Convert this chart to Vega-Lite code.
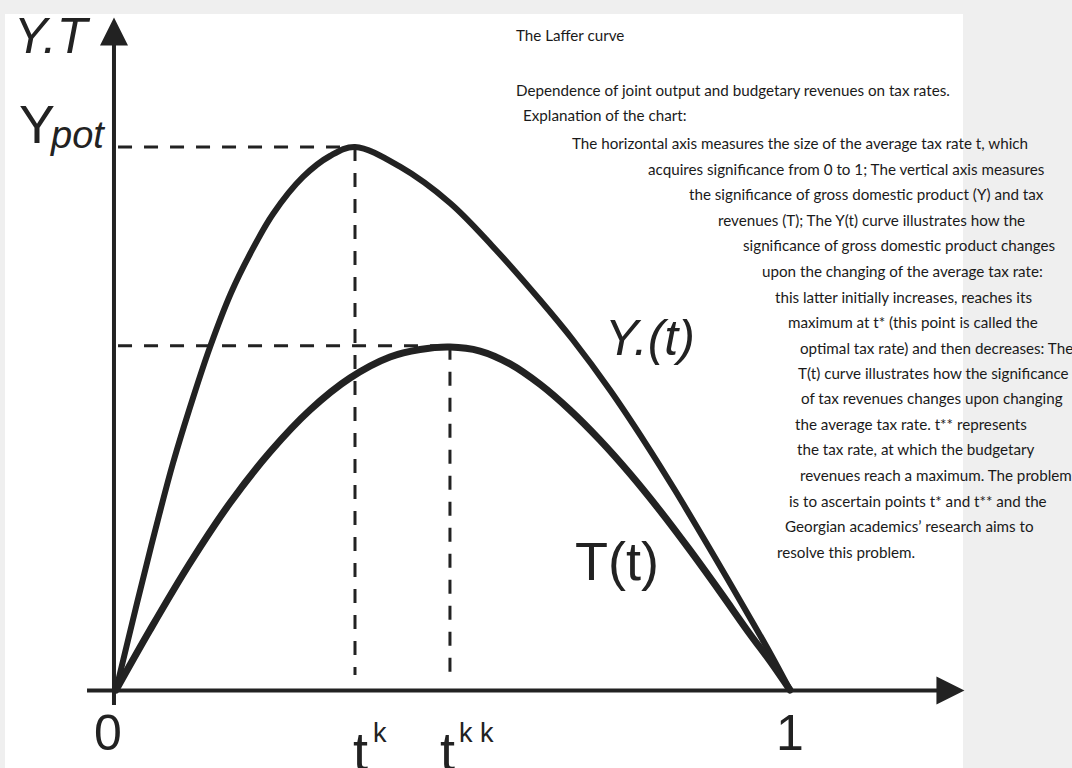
{
  "$schema": "https://vega.github.io/schema/vega-lite/v6.json",
  "width": 958,
  "height": 754,
  "autosize": {"type": "none"},
  "padding": {"left": 5, "top": 14, "right": 109, "bottom": 0},
  "background": "#efefef",
  "config": {"view": {"fill": "white", "stroke": null}},
  "datasets": {
    "curves": [
      {"series": "Y(t)", "t": 0, "v": 0},
      {"series": "Y(t)", "t": 0.0312, "v": 0.1602},
      {"series": "Y(t)", "t": 0.0579, "v": 0.2928},
      {"series": "Y(t)", "t": 0.0846, "v": 0.418},
      {"series": "Y(t)", "t": 0.1142, "v": 0.5378},
      {"series": "Y(t)", "t": 0.1395, "v": 0.6317},
      {"series": "Y(t)", "t": 0.1706, "v": 0.7311},
      {"series": "Y(t)", "t": 0.1988, "v": 0.8029},
      {"series": "Y(t)", "t": 0.2329, "v": 0.8766},
      {"series": "Y(t)", "t": 0.2774, "v": 0.9448},
      {"series": "Y(t)", "t": 0.3175, "v": 0.9834},
      {"series": "Y(t)", "t": 0.3546, "v": 1.0},
      {"series": "Y(t)", "t": 0.4214, "v": 0.9637},
      {"series": "Y(t)", "t": 0.4955, "v": 0.8969},
      {"series": "Y(t)", "t": 0.5593, "v": 0.8164},
      {"series": "Y(t)", "t": 0.6291, "v": 0.7182},
      {"series": "Y(t)", "t": 0.678, "v": 0.6446},
      {"series": "Y(t)", "t": 0.7329, "v": 0.5525},
      {"series": "Y(t)", "t": 0.7874, "v": 0.4512},
      {"series": "Y(t)", "t": 0.8294, "v": 0.3678},
      {"series": "Y(t)", "t": 0.8887, "v": 0.244},
      {"series": "Y(t)", "t": 0.9451, "v": 0.1236},
      {"series": "Y(t)", "t": 0.9729, "v": 0.0626},
      {"series": "Y(t)", "t": 1.0, "v": 0},
      {"series": "T(t)", "t": 0, "v": 0},
      {"series": "T(t)", "t": 0.0504, "v": 0.1105},
      {"series": "T(t)", "t": 0.1098, "v": 0.2339},
      {"series": "T(t)", "t": 0.1691, "v": 0.3444},
      {"series": "T(t)", "t": 0.2285, "v": 0.4383},
      {"series": "T(t)", "t": 0.2878, "v": 0.5157},
      {"series": "T(t)", "t": 0.3472, "v": 0.5746},
      {"series": "T(t)", "t": 0.4065, "v": 0.6133},
      {"series": "T(t)", "t": 0.451, "v": 0.6271},
      {"series": "T(t)", "t": 0.4955, "v": 0.6317},
      {"series": "T(t)", "t": 0.5401, "v": 0.6243},
      {"series": "T(t)", "t": 0.5846, "v": 0.6006},
      {"series": "T(t)", "t": 0.6291, "v": 0.563},
      {"series": "T(t)", "t": 0.6736, "v": 0.5155},
      {"series": "T(t)", "t": 0.7181, "v": 0.4602},
      {"series": "T(t)", "t": 0.7626, "v": 0.3983},
      {"series": "T(t)", "t": 0.8071, "v": 0.3304},
      {"series": "T(t)", "t": 0.8516, "v": 0.2575},
      {"series": "T(t)", "t": 0.8961, "v": 0.1812},
      {"series": "T(t)", "t": 0.9407, "v": 0.1028},
      {"series": "T(t)", "t": 0.9703, "v": 0.0534},
      {"series": "T(t)", "t": 1.0, "v": 0}
    ],
    "guides": [
      {"name": "Ypot level", "t": 0.003, "t2": 0.3546, "v": 1.0, "v2": 1.0},
      {"name": "t* drop", "t": 0.3546, "t2": 0.3546, "v": 1.0, "v2": 0.0276},
      {"name": "T max level", "t": 0.003, "t2": 0.4955, "v": 0.634, "v2": 0.634},
      {"name": "t** drop", "t": 0.4955, "t2": 0.4955, "v": 0.634, "v2": 0.0276}
    ],
    "italicLabels": [
      {"text": "Y.T", "t": -0.1513, "v": 1.1731},
      {"text": "Y.(t)", "t": 0.7255, "v": 0.6169}
    ],
    "subLabels": [
      {"text": "pot", "t": -0.0964, "v": 0.9982}
    ],
    "bigLabels": [
      {"text": "Y", "t": -0.1439, "v": 1.0074},
      {"text": "T(t)", "t": 0.681, "v": 0.2026},
      {"text": "t", "t": 0.3516, "v": -0.1473},
      {"text": "t", "t": 0.4807, "v": -0.1473}
    ],
    "tickLabels": [
      {"text": "0", "t": -0.0119, "v": -0.1105},
      {"text": "1", "t": 1.0, "v": -0.1105}
    ],
    "supLabels": [
      {"text": "k", "t": 0.3813, "v": -0.0958},
      {"text": "k k", "t": 0.5089, "v": -0.0958}
    ],
    "notes": [
      {"text": "The Laffer curve", "t": 0.5935, "v": 1.1952},
      {"text": "Dependence of joint output and budgetary revenues on tax rates.", "t": 0.5935, "v": 1.0939},
      {"text": "Explanation of the chart:", "t": 0.6039, "v": 1.0479},
      {"text": "The horizontal axis measures the size of the average tax rate t, which", "t": 0.6766, "v": 0.9954},
      {"text": "acquires significance from 0 to 1;  The vertical axis measures", "t": 0.7893, "v": 0.9484},
      {"text": "the significance of gross domestic product (Y) and tax", "t": 0.8501, "v": 0.9015},
      {"text": "revenues (T); The Y(t) curve illustrates how the", "t": 0.8932, "v": 0.8545},
      {"text": "significance of gross domestic product changes", "t": 0.9303, "v": 0.8076},
      {"text": "upon the changing of the average tax rate:", "t": 0.9585, "v": 0.7606},
      {"text": "this latter initially increases, reaches its", "t": 0.9777, "v": 0.7136},
      {"text": "maximum at t*  (this point is called the", "t": 0.997, "v": 0.6667},
      {"text": "optimal tax rate) and then decreases:  The", "t": 1.0148, "v": 0.6197},
      {"text": "T(t) curve illustrates how the significance", "t": 1.0119, "v": 0.5727},
      {"text": "of tax revenues changes upon changing", "t": 1.0163, "v": 0.5258},
      {"text": "the average tax rate. t**  represents", "t": 1.0074, "v": 0.4788},
      {"text": "the tax rate, at which the budgetary", "t": 1.0104, "v": 0.4319},
      {"text": "revenues reach a maximum. The problem", "t": 1.0148, "v": 0.3849},
      {"text": "is to ascertain points t* and t** and the", "t": 0.9985, "v": 0.3379},
      {"text": "Georgian academics’ research aims to", "t": 0.9926, "v": 0.291},
      {"text": "resolve this problem.", "t": 0.9807, "v": 0.244}
    ]
  },
  "layer": [
    {
      "data": {"name": "guides"},
      "mark": {"type": "rule", "color": "#222222", "strokeWidth": 3, "strokeDash": [14, 12]},
      "encoding": {
        "x": {"field": "t", "type": "quantitative", "scale": {"domain": [-0.1647, 1.2567], "nice": false, "zero": false}, "axis": null},
        "x2": {"field": "t2"},
        "y": {"field": "v", "type": "quantitative", "scale": {"domain": [-0.1436, 1.2449], "nice": false, "zero": false}, "axis": null},
        "y2": {"field": "v2"}
      }
    },
    {
      "data": {"name": "curves"},
      "transform": [{"filter": "datum.series === 'Y(t)'"}],
      "mark": {"type": "line", "interpolate": "catmull-rom", "color": "#222222", "strokeWidth": 6, "strokeCap": "round"},
      "encoding": {
        "x": {"field": "t", "type": "quantitative", "scale": {"domain": [-0.1647, 1.2567], "nice": false, "zero": false}, "axis": null},
        "y": {"field": "v", "type": "quantitative", "scale": {"domain": [-0.1436, 1.2449], "nice": false, "zero": false}, "axis": null},
        "order": {"field": "t", "type": "quantitative"}
      }
    },
    {
      "data": {"name": "curves"},
      "transform": [{"filter": "datum.series === 'T(t)'"}],
      "mark": {"type": "line", "interpolate": "catmull-rom", "color": "#222222", "strokeWidth": 7, "strokeCap": "round"},
      "encoding": {
        "x": {"field": "t", "type": "quantitative", "scale": {"domain": [-0.1647, 1.2567], "nice": false, "zero": false}, "axis": null},
        "y": {"field": "v", "type": "quantitative", "scale": {"domain": [-0.1436, 1.2449], "nice": false, "zero": false}, "axis": null},
        "order": {"field": "t", "type": "quantitative"}
      }
    },
    {
      "data": {"values": [{"axis": "Y.T"}]},
      "mark": {"type": "rule", "color": "#222222", "strokeWidth": 4},
      "encoding": {
        "x": {"datum": -0.003, "type": "quantitative", "scale": {"domain": [-0.1647, 1.2567], "nice": false, "zero": false}, "axis": null},
        "y": {"datum": -0.0276, "type": "quantitative", "scale": {"domain": [-0.1436, 1.2449], "nice": false, "zero": false}, "axis": null},
        "y2": {"datum": 1.197}
      }
    },
    {
      "data": {"values": [{"axis": "t"}]},
      "mark": {"type": "rule", "color": "#222222", "strokeWidth": 4},
      "encoding": {
        "x": {"datum": -0.043, "type": "quantitative", "scale": {"domain": [-0.1647, 1.2567], "nice": false, "zero": false}, "axis": null},
        "x2": {"datum": 1.23},
        "y": {"datum": -0.001, "type": "quantitative", "scale": {"domain": [-0.1436, 1.2449], "nice": false, "zero": false}, "axis": null}
      }
    },
    {
      "data": {"values": [{"axis": "Y.T"}]},
      "mark": {"type": "point", "shape": "M0,-1L1,1L-1,1Z", "filled": true, "size": 784, "color": "#222222", "opacity": 1, "strokeWidth": 0},
      "encoding": {
        "x": {"datum": -0.003, "type": "quantitative", "scale": {"domain": [-0.1647, 1.2567], "nice": false, "zero": false}, "axis": null},
        "y": {"datum": 1.2127, "type": "quantitative", "scale": {"domain": [-0.1436, 1.2449], "nice": false, "zero": false}, "axis": null}
      }
    },
    {
      "data": {"values": [{"axis": "t"}]},
      "mark": {"type": "point", "shape": "M1,0L-1,-1L-1,1Z", "filled": true, "size": 784, "color": "#222222", "opacity": 1, "strokeWidth": 0},
      "encoding": {
        "x": {"datum": 1.2381, "type": "quantitative", "scale": {"domain": [-0.1647, 1.2567], "nice": false, "zero": false}, "axis": null},
        "y": {"datum": -0.001, "type": "quantitative", "scale": {"domain": [-0.1436, 1.2449], "nice": false, "zero": false}, "axis": null}
      }
    },
    {
      "data": {"name": "italicLabels"},
      "mark": {"type": "text", "align": "left", "baseline": "alphabetic", "font": "Liberation Sans", "fontStyle": "italic", "fontSize": 50, "color": "#222222"},
      "encoding": {
        "x": {"field": "t", "type": "quantitative", "scale": {"domain": [-0.1647, 1.2567], "nice": false, "zero": false}, "axis": null},
        "y": {"field": "v", "type": "quantitative", "scale": {"domain": [-0.1436, 1.2449], "nice": false, "zero": false}, "axis": null},
        "text": {"field": "text"}
      }
    },
    {
      "data": {"name": "subLabels"},
      "mark": {"type": "text", "align": "left", "baseline": "alphabetic", "font": "Liberation Sans", "fontStyle": "italic", "fontSize": 38, "color": "#222222"},
      "encoding": {
        "x": {"field": "t", "type": "quantitative", "scale": {"domain": [-0.1647, 1.2567], "nice": false, "zero": false}, "axis": null},
        "y": {"field": "v", "type": "quantitative", "scale": {"domain": [-0.1436, 1.2449], "nice": false, "zero": false}, "axis": null},
        "text": {"field": "text"}
      }
    },
    {
      "data": {"name": "bigLabels"},
      "mark": {"type": "text", "align": "left", "baseline": "alphabetic", "font": "Liberation Sans", "fontSize": 54, "color": "#222222"},
      "encoding": {
        "x": {"field": "t", "type": "quantitative", "scale": {"domain": [-0.1647, 1.2567], "nice": false, "zero": false}, "axis": null},
        "y": {"field": "v", "type": "quantitative", "scale": {"domain": [-0.1436, 1.2449], "nice": false, "zero": false}, "axis": null},
        "text": {"field": "text"}
      }
    },
    {
      "data": {"name": "tickLabels"},
      "mark": {"type": "text", "align": "center", "baseline": "alphabetic", "font": "Liberation Sans", "fontSize": 50, "color": "#222222"},
      "encoding": {
        "x": {"field": "t", "type": "quantitative", "scale": {"domain": [-0.1647, 1.2567], "nice": false, "zero": false}, "axis": null},
        "y": {"field": "v", "type": "quantitative", "scale": {"domain": [-0.1436, 1.2449], "nice": false, "zero": false}, "axis": null},
        "text": {"field": "text"}
      }
    },
    {
      "data": {"name": "supLabels"},
      "mark": {"type": "text", "align": "left", "baseline": "alphabetic", "font": "Liberation Sans", "fontSize": 27, "color": "#222222"},
      "encoding": {
        "x": {"field": "t", "type": "quantitative", "scale": {"domain": [-0.1647, 1.2567], "nice": false, "zero": false}, "axis": null},
        "y": {"field": "v", "type": "quantitative", "scale": {"domain": [-0.1436, 1.2449], "nice": false, "zero": false}, "axis": null},
        "text": {"field": "text"}
      }
    },
    {
      "data": {"name": "notes"},
      "mark": {"type": "text", "align": "left", "baseline": "alphabetic", "font": "Lato", "fontSize": 15.2, "color": "#1a1a1a"},
      "encoding": {
        "x": {"field": "t", "type": "quantitative", "scale": {"domain": [-0.1647, 1.2567], "nice": false, "zero": false}, "axis": null},
        "y": {"field": "v", "type": "quantitative", "scale": {"domain": [-0.1436, 1.2449], "nice": false, "zero": false}, "axis": null},
        "text": {"field": "text"}
      }
    }
  ]
}
